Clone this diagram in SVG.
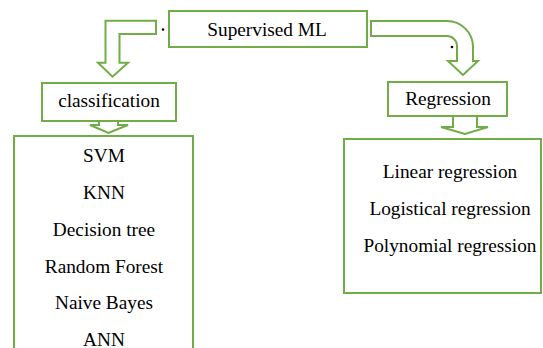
<svg xmlns="http://www.w3.org/2000/svg" width="543" height="348" viewBox="0 0 543 348">
<style>
.box{fill:#fff;stroke:#70AD47;stroke-width:2}
.arr{fill:#fff;stroke:#70AD47;stroke-width:2;stroke-linejoin:miter}
.t{font-family:"Liberation Serif","Times New Roman",serif;font-size:19.3px;fill:#000;text-anchor:middle}
</style>
<rect width="543" height="348" fill="#fff"/>
<g id="connectors">
<path class="arr" d="M156,20.7 L105.5,20.7 L105.5,62.7 L98,62.7 L112.5,76.7 L128,62.7 L119.5,62.7 L119.5,34 L156,34 Z"/>
<path class="arr" d="M371,21 L447,21 A26,26 0 0 1 473,47 L473,61 L478,61 L463,75 L448,61 L457,61 L457,46 A10,10 0 0 0 447,36 L371,36 Z"/>
<path class="arr" d="M99,121 L99,125 L90,125 L108.5,133 L128,125 L118,125 L118,121"/>
<path class="arr" d="M453,116 L453,127 L441,127 L465,134 L488,127 L477,127 L477,116"/>
<circle cx="163" cy="29.5" r="1.3" fill="#000"/>
<circle cx="452" cy="47" r="1.3" fill="#000"/>
</g>
<g id="supervised">
<rect class="box" x="169" y="11" width="198" height="36"/>
<text class="t" x="267" y="36">Supervised ML</text>
</g>
<g id="classification">
<rect class="box" x="42" y="83" width="134" height="38"/>
<text class="t" x="109" y="107">classification</text>
</g>
<g id="regression">
<rect class="box" x="388" y="82" width="119" height="34"/>
<text class="t" x="448" y="105">Regression</text>
</g>
<g id="classList">
<rect class="box" x="14" y="136" width="179" height="230"/>
<text class="t" x="104" y="162">SVM</text>
<text class="t" x="104" y="199">KNN</text>
<text class="t" x="104" y="236">Decision tree</text>
<text class="t" x="104" y="273">Random Forest</text>
<text class="t" x="104" y="309">Naive Bayes</text>
<text class="t" x="104" y="346">ANN</text>
</g>
<g id="regList">
<rect class="box" x="344" y="139" width="197" height="154"/>
<text class="t" x="450" y="178">Linear regression</text>
<text class="t" x="450" y="215">Logistical regression</text>
<text class="t" x="450" y="252">Polynomial regression</text>
</g>
</svg>
